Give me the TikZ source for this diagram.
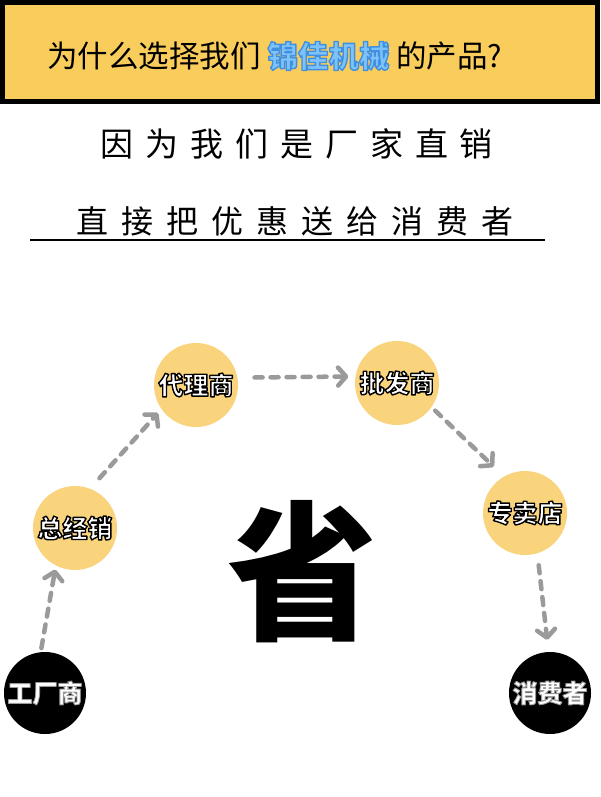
\documentclass[tikz,border=0pt]{standalone}
\usepackage{fontspec}
\usetikzlibrary{arrows.meta}

\newfontfamily\cjk{Noto Sans CJK SC}
\newfontfamily\cjkheavy{Noto Sans CJK SC Black}
\definecolor{titleyellow}{HTML}{F9CD5B}
\definecolor{stageyellow}{HTML}{FAD47C}
\definecolor{arrowgray}{HTML}{9A9A9A}
\definecolor{brandblue}{HTML}{7DC2F8}
% #1 = stroke rgb, #2 = stroke width, #3 = text
\newcommand\edgetext[3]{\special{pdf:literal direct 2 Tr #2 w 1 j #1 RG}#3\special{pdf:literal direct 0 Tr}}

\begin{document}
\begin{tikzpicture}[x=1pt,y=-1pt,
    stage/.style={circle, fill=stageyellow, minimum size=84pt, inner sep=0pt,
      text=white, font=\cjkheavy\fontsize{25}{25}\selectfont},
    endstage/.style={circle, fill=black, minimum size=82pt, inner sep=0pt,
      text=white, font=\cjkheavy\fontsize{25}{25}\selectfont},
    flow/.style={draw=arrowgray, line width=4.5pt, line cap=round,
      dash pattern=on 8pt off 8pt,
      -{Straight Barb[length=8pt, width=18pt, round]}}
    ]
    \useasboundingbox (0,0) rectangle (600,797);
    \fill[white] (0,0) rectangle (600,797);

    % title bar
    \draw[line width=5pt, fill=titleyellow] (2.5,2.5) rectangle (597.5,101.5);
    \node[anchor=west, inner sep=0pt, font=\cjk\fontsize{30.5}{30.5}\selectfont] (title) at (47,56)
      {为什么选择我们 {\bfseries\color{brandblue}\edgetext{0.25 0.56 0.88}{1.4}{锦佳机械}} 的产品?};

    % slogan
    \node[inner sep=0pt, font=\cjk\fontsize{33}{33}\selectfont\addfontfeature{LetterSpace=36}] (slogan) at (297,144)
      {因为我们是厂家直销};
    \node[inner sep=0pt, font=\cjk\fontsize{32}{32}\selectfont\addfontfeature{LetterSpace=40.5}] (promise) at (295,221)
      {直接把优惠送给消费者};
    \draw[line width=2pt] (30,240) -- (545,240);

    % big sign
    \node[inner sep=0pt, font=\cjkheavy\fontsize{150}{150}\selectfont] (save) at (302,572) {省};

    % chain
    \node[endstage] (factory) at (45,693) {\edgetext{0.6 0.6 0.6}{0.9}{工厂商}};
    \node[stage] (general) at (75,528) {\edgetext{0 0 0}{1.4}{总经销}};
    \node[stage] (agent) at (196,385) {\edgetext{0 0 0}{1.4}{代理商}};
    \node[stage] (wholesale) at (397,383) {\edgetext{0 0 0}{1.4}{批发商}};
    \node[stage] (shop) at (525,513) {\edgetext{0 0 0}{1.4}{专卖店}};
    \node[endstage] (buyer) at (550,693) {\edgetext{0.6 0.6 0.6}{0.9}{消费者}};

    \draw[flow, shorten <=4pt, shorten >=4pt] (factory.96) -- (general.243);
    \draw[flow, shorten <=14pt, shorten >=5pt] (general.69) -- (agent.215);
    \draw[flow, shorten <=17pt, shorten >=7pt] (agent.10) -- (wholesale.171);
    \draw[flow, shorten <=5pt, shorten >=14pt] (wholesale.325) -- (shop.120);
    \draw[flow, shorten <=12pt, shorten >=12pt] (shop.287) -- (buyer.92);
  \end{tikzpicture}
\end{document}
